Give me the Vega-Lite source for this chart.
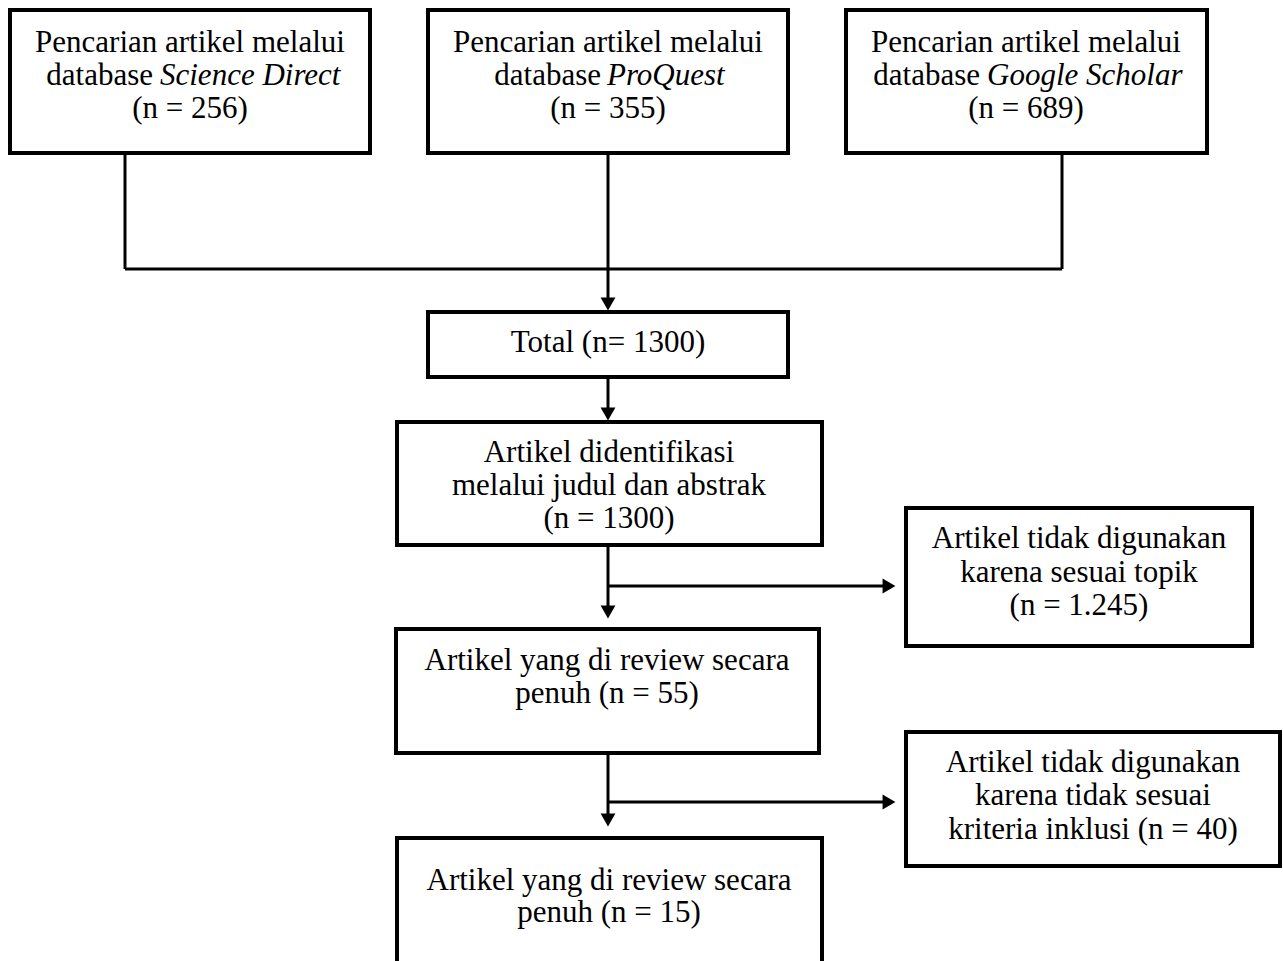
{
  "$schema": "https://vega.github.io/schema/vega-lite/v6.json",
  "width": 1283,
  "height": 961,
  "autosize": {"type": "none"},
  "padding": 0,
  "background": "white",
  "config": {"view": {"stroke": null}},
  "datasets": {
    "boxes": [
      {"id": "sd", "x1": 10, "x2": 370, "y1": 10, "y2": 153},
      {"id": "pq", "x1": 428, "x2": 788, "y1": 10, "y2": 153},
      {"id": "gs", "x1": 846, "x2": 1207, "y1": 10, "y2": 153},
      {"id": "total", "x1": 428, "x2": 788, "y1": 312, "y2": 377},
      {"id": "ident", "x1": 397, "x2": 822, "y1": 422, "y2": 545},
      {"id": "excl1", "x1": 906, "x2": 1252, "y1": 508, "y2": 646},
      {"id": "rev1", "x1": 396, "x2": 819, "y1": 629, "y2": 753},
      {"id": "excl2", "x1": 906, "x2": 1280, "y1": 732, "y2": 866},
      {"id": "rev2", "x1": 397, "x2": 822, "y1": 838, "y2": 980}
    ],
    "lines": [
      {"x1": 125, "y1": 153, "x2": 125, "y2": 269},
      {"x1": 608, "y1": 153, "x2": 608, "y2": 305},
      {"x1": 1062, "y1": 153, "x2": 1062, "y2": 269},
      {"x1": 125, "y1": 269, "x2": 1062, "y2": 269},
      {"x1": 608, "y1": 377, "x2": 608, "y2": 415},
      {"x1": 608, "y1": 545, "x2": 608, "y2": 612},
      {"x1": 608, "y1": 586, "x2": 890, "y2": 586},
      {"x1": 608, "y1": 753, "x2": 608, "y2": 820},
      {"x1": 608, "y1": 802, "x2": 890, "y2": 802}
    ],
    "arrows": [
      {"x": 608, "y": 304, "dir": "triangle-down"},
      {"x": 608, "y": 414, "dir": "triangle-down"},
      {"x": 608, "y": 612, "dir": "triangle-down"},
      {"x": 889, "y": 586, "dir": "triangle-right"},
      {"x": 608, "y": 820, "dir": "triangle-down"},
      {"x": 889, "y": 802, "dir": "triangle-right"}
    ],
    "texts": [
      {"kind": "c", "x": 190, "y": 52, "t": "Pencarian artikel melalui"},
      {"kind": "r", "x": 153, "y": 85, "t": "database"},
      {"kind": "i", "x": 160, "y": 85, "t": "Science Direct"},
      {"kind": "c", "x": 190, "y": 118, "t": "(n = 256)"},
      {"kind": "c", "x": 608, "y": 52, "t": "Pencarian artikel melalui"},
      {"kind": "r", "x": 601, "y": 85, "t": "database"},
      {"kind": "i", "x": 607, "y": 85, "t": "ProQuest"},
      {"kind": "c", "x": 608, "y": 118, "t": "(n = 355)"},
      {"kind": "c", "x": 1026, "y": 52, "t": "Pencarian artikel melalui"},
      {"kind": "r", "x": 980, "y": 85, "t": "database"},
      {"kind": "i", "x": 987, "y": 85, "t": "Google Scholar"},
      {"kind": "c", "x": 1026, "y": 118, "t": "(n = 689)"},
      {"kind": "c", "x": 608, "y": 352, "t": "Total (n= 1300)"},
      {"kind": "c", "x": 609, "y": 462, "t": "Artikel didentifikasi"},
      {"kind": "c", "x": 609, "y": 495, "t": "melalui judul dan abstrak"},
      {"kind": "c", "x": 609, "y": 528, "t": "(n = 1300)"},
      {"kind": "c", "x": 1079, "y": 548, "t": "Artikel tidak digunakan"},
      {"kind": "c", "x": 1079, "y": 582, "t": "karena sesuai topik"},
      {"kind": "c", "x": 1079, "y": 615, "t": "(n = 1.245)"},
      {"kind": "c", "x": 607, "y": 670, "t": "Artikel yang di review secara"},
      {"kind": "c", "x": 607, "y": 703, "t": "penuh (n = 55)"},
      {"kind": "c", "x": 1093, "y": 772, "t": "Artikel tidak digunakan"},
      {"kind": "c", "x": 1093, "y": 805, "t": "karena tidak sesuai"},
      {"kind": "c", "x": 1093, "y": 839, "t": "kriteria inklusi (n = 40)"},
      {"kind": "c", "x": 609, "y": 890, "t": "Artikel yang di review secara"},
      {"kind": "c", "x": 609, "y": 922, "t": "penuh (n = 15)"}
    ]
  },
  "layer": [
    {
      "data": {"name": "boxes"},
      "mark": {"type": "rect", "fill": "white", "stroke": "black", "strokeWidth": 4, "clip": true},
      "encoding": {
        "x": {"field": "x1", "type": "quantitative", "scale": {"domain": [0, 1283], "nice": false, "zero": false}, "axis": null},
        "x2": {"field": "x2"},
        "y": {"field": "y1", "type": "quantitative", "scale": {"domain": [0, 961], "reverse": true, "nice": false, "zero": false}, "axis": null},
        "y2": {"field": "y2"}
      }
    },
    {
      "data": {"name": "lines"},
      "mark": {"type": "rule", "stroke": "black", "strokeWidth": 3},
      "encoding": {
        "x": {"field": "x1", "type": "quantitative", "scale": {"domain": [0, 1283], "nice": false, "zero": false}, "axis": null},
        "x2": {"field": "x2"},
        "y": {"field": "y1", "type": "quantitative", "scale": {"domain": [0, 961], "reverse": true, "nice": false, "zero": false}, "axis": null},
        "y2": {"field": "y2"}
      }
    },
    {
      "data": {"name": "arrows"},
      "mark": {"type": "point", "filled": true, "color": "black", "opacity": 1, "size": 220},
      "encoding": {
        "x": {"field": "x", "type": "quantitative", "scale": {"domain": [0, 1283], "nice": false, "zero": false}, "axis": null},
        "y": {"field": "y", "type": "quantitative", "scale": {"domain": [0, 961], "reverse": true, "nice": false, "zero": false}, "axis": null},
        "shape": {"field": "dir", "type": "nominal", "scale": null, "legend": null}
      }
    },
    {
      "data": {"name": "texts"},
      "transform": [{"filter": "datum.kind === 'c'"}],
      "mark": {"type": "text", "font": "Liberation Serif", "fontSize": 31, "align": "center", "baseline": "alphabetic", "color": "black"},
      "encoding": {
        "x": {"field": "x", "type": "quantitative", "scale": {"domain": [0, 1283], "nice": false, "zero": false}, "axis": null},
        "y": {"field": "y", "type": "quantitative", "scale": {"domain": [0, 961], "reverse": true, "nice": false, "zero": false}, "axis": null},
        "text": {"field": "t"}
      }
    },
    {
      "data": {"name": "texts"},
      "transform": [{"filter": "datum.kind === 'r'"}],
      "mark": {"type": "text", "font": "Liberation Serif", "fontSize": 31, "align": "right", "baseline": "alphabetic", "color": "black"},
      "encoding": {
        "x": {"field": "x", "type": "quantitative", "scale": {"domain": [0, 1283], "nice": false, "zero": false}, "axis": null},
        "y": {"field": "y", "type": "quantitative", "scale": {"domain": [0, 961], "reverse": true, "nice": false, "zero": false}, "axis": null},
        "text": {"field": "t"}
      }
    },
    {
      "data": {"name": "texts"},
      "transform": [{"filter": "datum.kind === 'i'"}],
      "mark": {"type": "text", "font": "Liberation Serif", "fontSize": 31, "fontStyle": "italic", "align": "left", "baseline": "alphabetic", "color": "black"},
      "encoding": {
        "x": {"field": "x", "type": "quantitative", "scale": {"domain": [0, 1283], "nice": false, "zero": false}, "axis": null},
        "y": {"field": "y", "type": "quantitative", "scale": {"domain": [0, 961], "reverse": true, "nice": false, "zero": false}, "axis": null},
        "text": {"field": "t"}
      }
    }
  ]
}
